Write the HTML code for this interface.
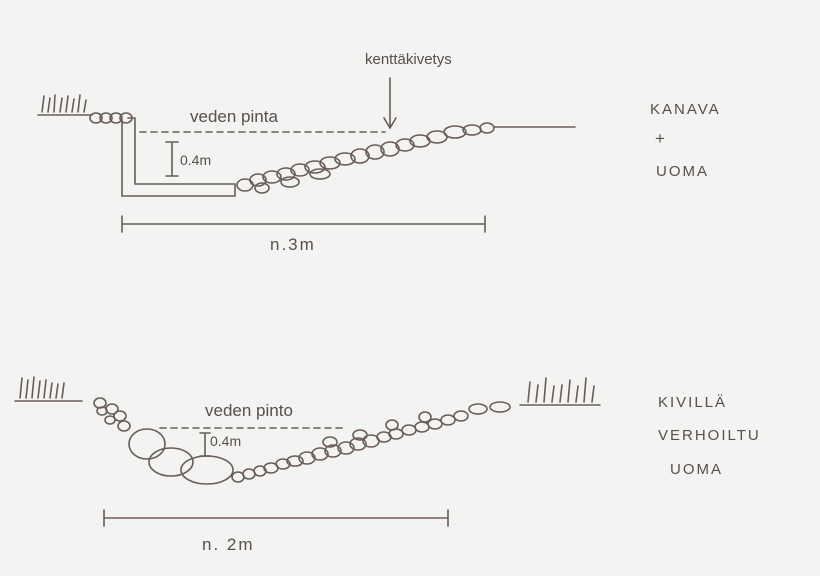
<!DOCTYPE html>
<html><head><style>
body{margin:0;background:#f3f3f1;}
svg{display:block}
text{font-family:"Liberation Sans",sans-serif;fill:#5a4e4e;}
</style></head><body>
<svg width="820" height="576" viewBox="0 0 820 576" xmlns="http://www.w3.org/2000/svg">
<rect width="820" height="576" fill="#f3f3f1"/>
<g fill="none" stroke="#6a5c5c" stroke-width="1.6" stroke-linecap="round">
<!-- top grass -->
<path d="M38 115 L92 115 M42 112 L44 96 M48 112 L50 98 M54 112 L55 95 M60 112 L62 98 M66 112 L68 96 M72 112 L74 99 M78 112 L80 95 M84 112 L86 100"/>
<ellipse cx="96" cy="118" rx="6" ry="5"/><ellipse cx="106" cy="118" rx="6" ry="5"/><ellipse cx="116" cy="118" rx="6" ry="5"/><ellipse cx="126" cy="118" rx="6" ry="5"/>
<!-- wall -->
<path d="M122 120 L122 196 L235 196 L235 184 L135 184 L135 118 M128 118 L135 118"/>
<path d="M140 132 L385 132" stroke-dasharray="6 5"/>
<path d="M172 142 L172 176 M166 142 L178 142 M166 176 L178 176"/>
<g>
<ellipse cx="245" cy="185" rx="8" ry="6"/><ellipse cx="258" cy="180" rx="8" ry="6"/><ellipse cx="272" cy="177" rx="9" ry="6"/>
<ellipse cx="286" cy="174" rx="9" ry="6"/><ellipse cx="300" cy="170" rx="9" ry="6"/><ellipse cx="315" cy="167" rx="10" ry="6"/>
<ellipse cx="330" cy="163" rx="10" ry="6"/><ellipse cx="345" cy="159" rx="10" ry="6"/><ellipse cx="360" cy="156" rx="9" ry="7"/>
<ellipse cx="375" cy="152" rx="9" ry="7"/><ellipse cx="390" cy="149" rx="9" ry="7"/><ellipse cx="405" cy="145" rx="9" ry="6"/>
<ellipse cx="420" cy="141" rx="10" ry="6"/><ellipse cx="437" cy="137" rx="10" ry="6"/><ellipse cx="455" cy="132" rx="11" ry="6"/>
<ellipse cx="472" cy="130" rx="9" ry="5"/><ellipse cx="487" cy="128" rx="7" ry="5"/>
<ellipse cx="262" cy="188" rx="7" ry="5"/><ellipse cx="290" cy="182" rx="9" ry="5"/><ellipse cx="320" cy="174" rx="10" ry="5"/>
</g>
<path d="M494 127 L575 127"/>
<path d="M390 78 L390 127 M384 118 L390 128 L396 118"/>
<path d="M122 224 L485 224 M122 216 L122 232 M485 216 L485 232"/>
<!-- bottom -->
<path d="M15 401 L82 401 M20 398 L22 378 M26 398 L28 380 M32 398 L34 377 M38 398 L40 381 M44 398 L46 380 M50 398 L52 383 M56 398 L58 384 M62 398 L64 383"/>
<path d="M520 405 L600 405 M528 402 L530 382 M536 402 L538 385 M544 402 L546 378 M552 402 L554 386 M560 402 L562 385 M568 402 L570 380 M576 402 L578 386 M584 402 L586 378 M592 402 L594 386"/>
<ellipse cx="100" cy="403" rx="6" ry="5"/><ellipse cx="112" cy="409" rx="6" ry="5"/><ellipse cx="102" cy="411" rx="5" ry="4"/>
<ellipse cx="120" cy="416" rx="6" ry="5"/><ellipse cx="124" cy="426" rx="6" ry="5"/><ellipse cx="110" cy="420" rx="5" ry="4"/>
<ellipse cx="147" cy="444" rx="18" ry="15"/><ellipse cx="171" cy="462" rx="22" ry="14"/><ellipse cx="207" cy="470" rx="26" ry="14"/>
<g>
<ellipse cx="238" cy="477" rx="6" ry="5"/><ellipse cx="249" cy="474" rx="6" ry="5"/><ellipse cx="260" cy="471" rx="6" ry="5"/>
<ellipse cx="271" cy="468" rx="7" ry="5"/><ellipse cx="283" cy="464" rx="7" ry="5"/><ellipse cx="295" cy="461" rx="8" ry="5"/>
<ellipse cx="307" cy="458" rx="8" ry="6"/><ellipse cx="320" cy="454" rx="8" ry="6"/><ellipse cx="333" cy="451" rx="8" ry="6"/>
<ellipse cx="346" cy="448" rx="8" ry="6"/><ellipse cx="358" cy="444" rx="8" ry="6"/><ellipse cx="371" cy="441" rx="8" ry="6"/>
<ellipse cx="384" cy="437" rx="7" ry="5"/><ellipse cx="396" cy="434" rx="7" ry="5"/><ellipse cx="409" cy="430" rx="7" ry="5"/>
<ellipse cx="422" cy="427" rx="7" ry="5"/><ellipse cx="435" cy="424" rx="7" ry="5"/><ellipse cx="448" cy="420" rx="7" ry="5"/>
<ellipse cx="461" cy="416" rx="7" ry="5"/><ellipse cx="478" cy="409" rx="9" ry="5"/><ellipse cx="500" cy="407" rx="10" ry="5"/>
<ellipse cx="330" cy="442" rx="7" ry="5"/><ellipse cx="360" cy="435" rx="7" ry="5"/><ellipse cx="392" cy="425" rx="6" ry="5"/><ellipse cx="425" cy="417" rx="6" ry="5"/>
</g>
<path d="M160 428 L345 428" stroke-dasharray="6 5"/>
<path d="M205 433 L205 456 M200 433 L210 433 M200 456 L210 456"/>
<path d="M104 518 L448 518 M104 510 L104 526 M448 510 L448 526"/>
</g>
<text x="365" y="64" font-size="15">kenttäkivetys</text>
<text x="190" y="122" font-size="17">veden pinta</text>
<text x="180" y="165" font-size="14">0.4m</text>
<text x="270" y="250" font-size="17" letter-spacing="2">n.3m</text>
<text x="650" y="114" font-size="15" letter-spacing="2">KANAVA</text>
<text x="655" y="144" font-size="17">+</text>
<text x="656" y="176" font-size="15" letter-spacing="2">UOMA</text>
<text x="205" y="416" font-size="17">veden pinto</text>
<text x="210" y="446" font-size="14">0.4m</text>
<text x="202" y="550" font-size="17" letter-spacing="2">n. 2m</text>
<text x="658" y="407" font-size="15" letter-spacing="2">KIVILLÄ</text>
<text x="658" y="440" font-size="15" letter-spacing="2">VERHOILTU</text>
<text x="670" y="474" font-size="15" letter-spacing="2">UOMA</text>
</svg>
</body></html>
